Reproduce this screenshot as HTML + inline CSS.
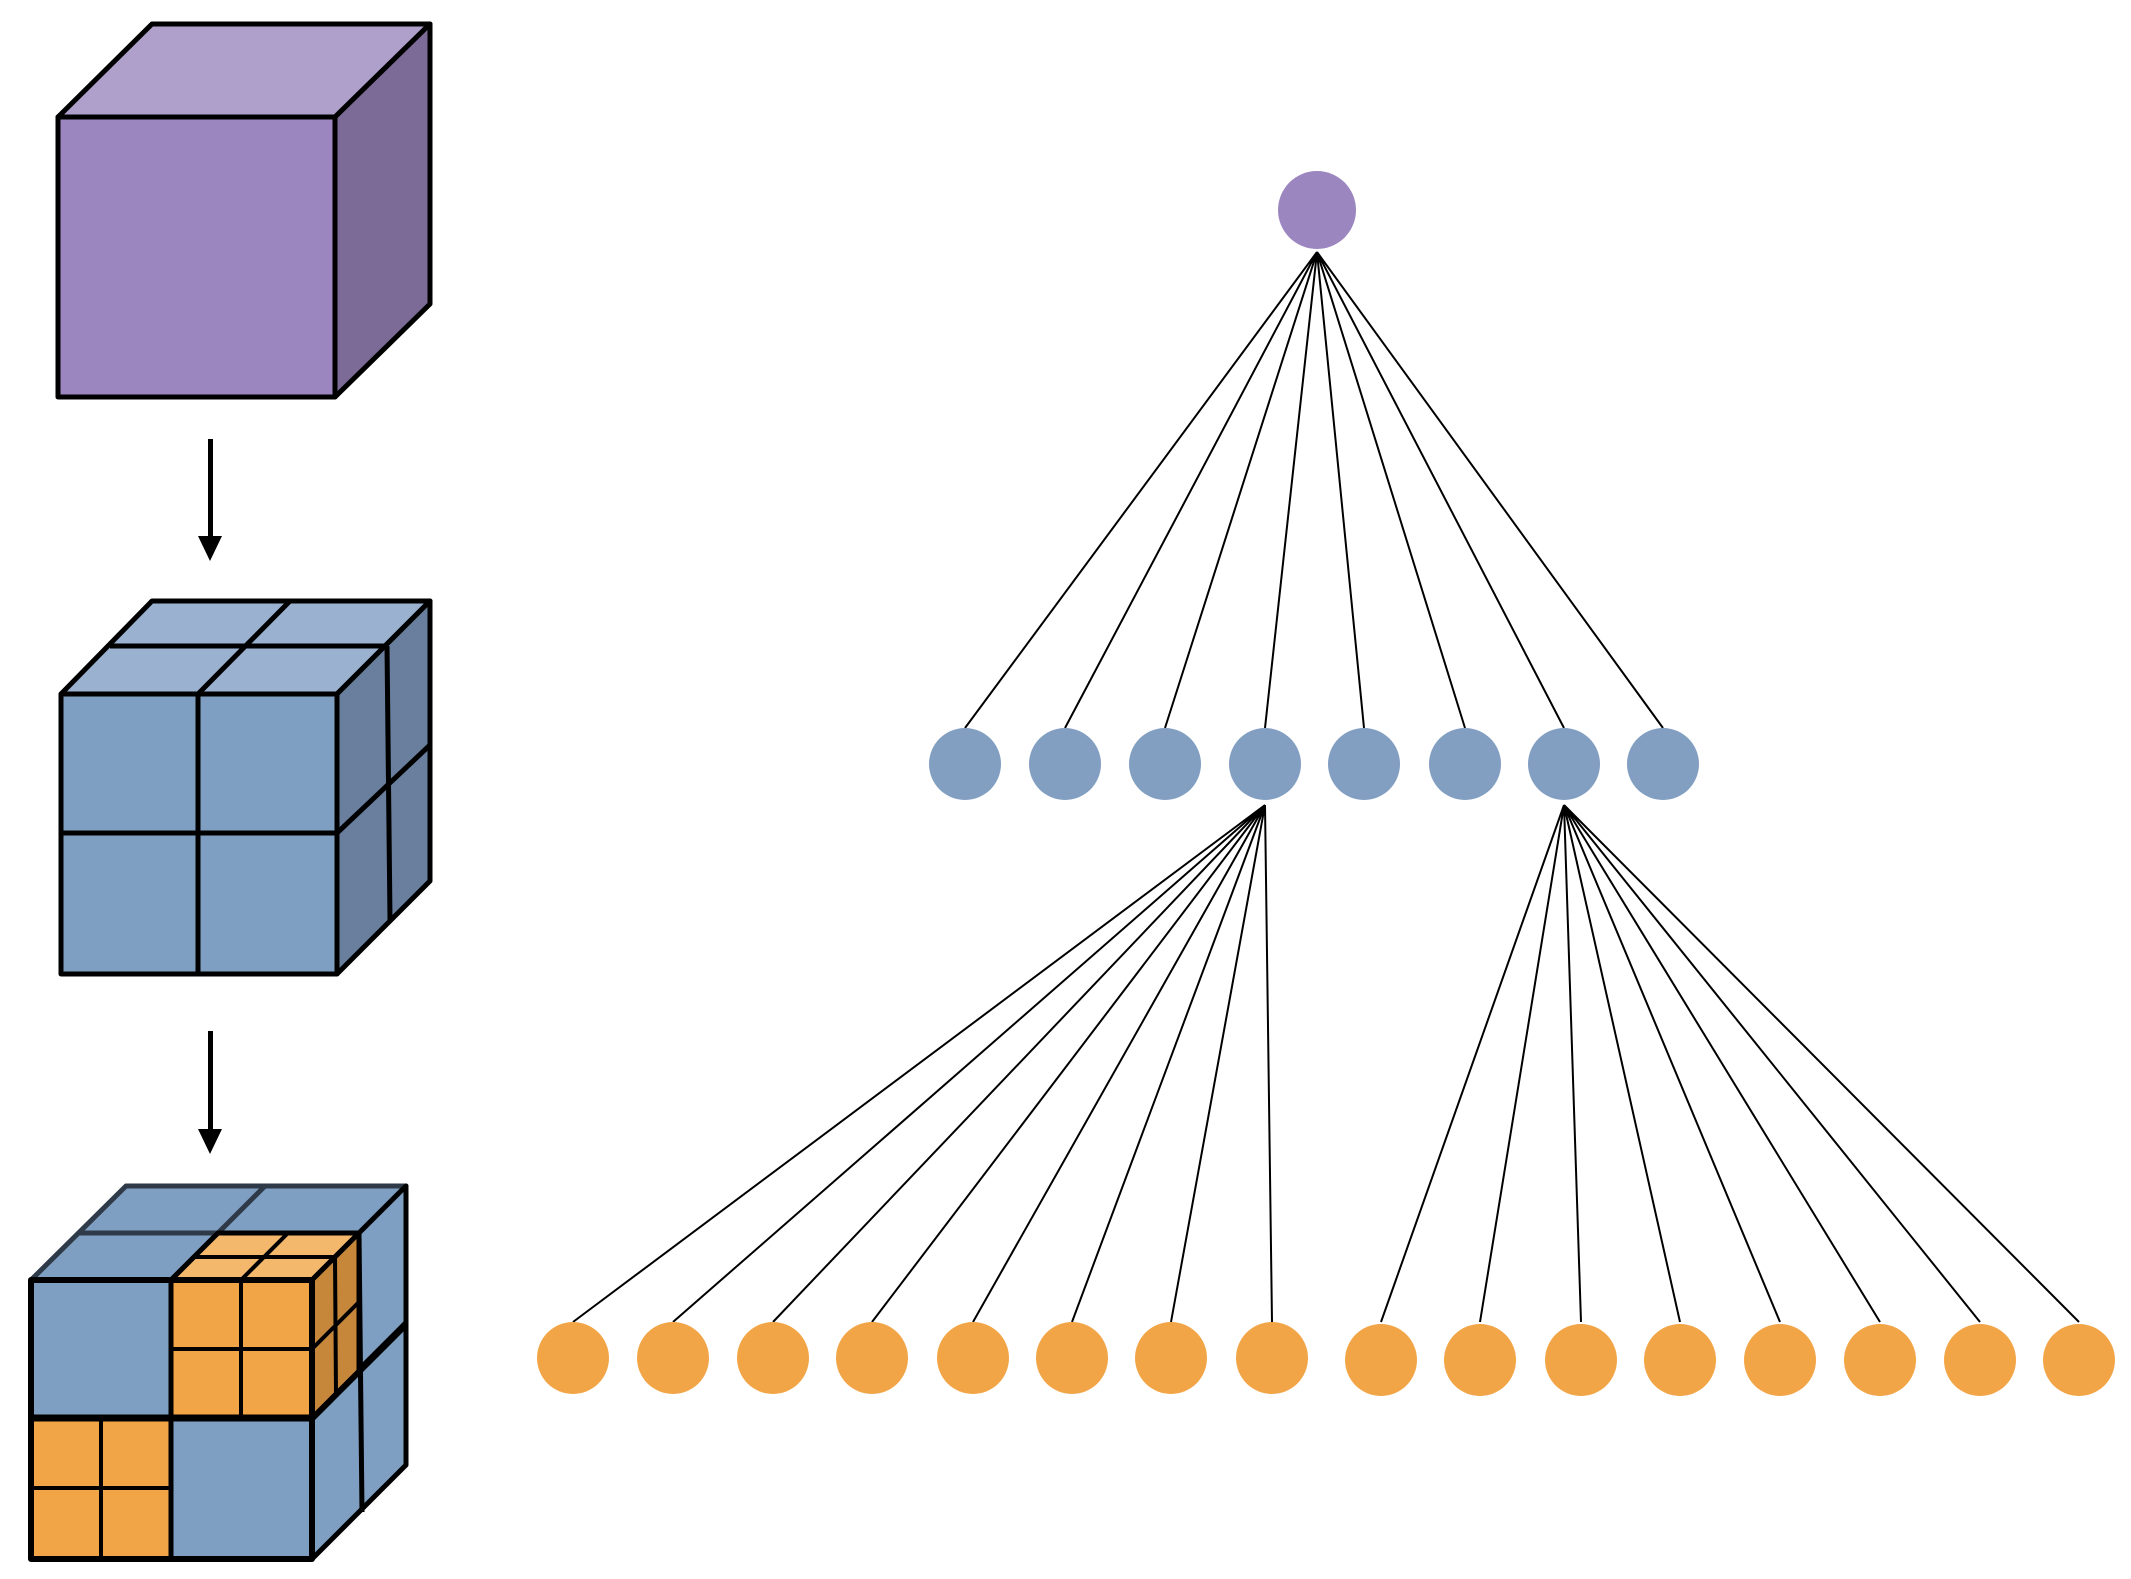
<!DOCTYPE html>
<html><head><meta charset="utf-8"><style>html,body{margin:0;padding:0;background:#fff}svg{display:block}</style></head>
<body>
<svg width="2131" height="1579" viewBox="0 0 2131 1579" xmlns="http://www.w3.org/2000/svg">
<g stroke="#000" stroke-width="5" stroke-linejoin="round">
<!-- purple cube -->
<polygon points="58,117 152,24 430,24 335,117" fill="#ae9fcb"/>
<polygon points="335,117 430,24 430,304 335,397" fill="#7b6b96"/>
<rect x="58" y="117" width="277" height="280" fill="#9b86bf"/>
<!-- blue cube -->
<polygon points="61,694 152,601 430,601 337,694" fill="#9ab1d0"/>
<polygon points="337,694 430,601 430,881 337,974" fill="#697f9d"/>
<rect x="61" y="694" width="276" height="280" fill="#7f9fc2"/>
<line x1="110" y1="646" x2="387" y2="646"/>
<line x1="198" y1="694" x2="290" y2="601"/>
<line x1="387" y1="646" x2="390" y2="920"/>
<line x1="337" y1="833" x2="430" y2="745"/>
<line x1="198" y1="694" x2="198" y2="974"/>
<line x1="61" y1="833" x2="337" y2="833"/>
<!-- cube 3 -->
<polygon points="31,1280 126,1186 406,1186 312,1280" fill="#7f9fc2" stroke="#2f3a48"/>
<polygon points="312,1280 406,1186 406,1465 312,1559" fill="#7f9fc2"/>
<rect x="31" y="1280" width="281" height="279" fill="#7f9fc2"/>
<line x1="78" y1="1233" x2="359" y2="1233" stroke="#2f3a48"/>
<line x1="171" y1="1280" x2="265" y2="1186" stroke="#2f3a48"/>
<line x1="359" y1="1233" x2="362" y2="1512"/>
<line x1="312" y1="1418" x2="406" y2="1324" stroke-width="7"/>
<!-- orange octant top-right -->
<polygon points="171,1280 218,1233 359,1233 312,1280" fill="#f4b86c"/>
<polygon points="312,1280 359,1233 359,1371 312,1418" fill="#c6873a"/>
<rect x="171" y="1280" width="141" height="138" fill="#f2a546"/>
<g stroke-width="4">
<line x1="194" y1="1257" x2="335" y2="1257"/>
<line x1="241" y1="1280" x2="288" y2="1233"/>
<line x1="335" y1="1257" x2="336" y2="1395"/>
<line x1="312" y1="1349" x2="359" y2="1302"/>
<line x1="241" y1="1280" x2="241" y2="1418"/>
<line x1="171" y1="1349" x2="312" y2="1349"/>
</g>
<!-- orange octant bottom-left -->
<rect x="31" y="1418" width="140" height="141" fill="#f2a546"/>
<g stroke-width="4">
<line x1="101" y1="1418" x2="101" y2="1559"/>
<line x1="31" y1="1488" x2="171" y2="1488"/>
</g>
<line x1="31" y1="1418" x2="312" y2="1418" stroke-width="7"/>
<line x1="171" y1="1280" x2="171" y2="1559"/>
<rect x="31" y="1280" width="281" height="279" fill="none" stroke-width="6"/>
</g>
<!-- arrows -->
<g fill="#000">
<rect x="208" y="439" width="5" height="100"/>
<polygon points="198,536 222,536 210,561"/>
<rect x="208" y="1031" width="5" height="100"/>
<polygon points="198,1129 222,1129 210,1154"/>
</g>
<!-- tree lines -->
<g stroke="#000" stroke-width="2" fill="none">
<path d="M1317 252 L965 728 M1317 252 L1065 728 M1317 252 L1165 728 M1317 252 L1265 728 M1317 252 L1364 728 M1317 252 L1465 728 M1317 252 L1564 728 M1317 252 L1663 728"/>
<path d="M1265 805 L573 1322 M1265 805 L673 1322 M1265 805 L773 1322 M1265 805 L872 1322 M1265 805 L973 1322 M1265 805 L1072 1322 M1265 805 L1171 1322 M1265 805 L1272 1322"/>
<path d="M1564 805 L1381 1322 M1564 805 L1480 1322 M1564 805 L1581 1322 M1564 805 L1680 1322 M1564 805 L1780 1322 M1564 805 L1880 1322 M1564 805 L1980 1322 M1564 805 L2079 1322"/>
</g>
<circle cx="1317" cy="210" r="39" fill="#9b86bf"/>
<g fill="#829fc2">
<circle cx="965" cy="764" r="36"/><circle cx="1065" cy="764" r="36"/><circle cx="1165" cy="764" r="36"/><circle cx="1265" cy="764" r="36"/><circle cx="1364" cy="764" r="36"/><circle cx="1465" cy="764" r="36"/><circle cx="1564" cy="764" r="36"/><circle cx="1663" cy="764" r="36"/>
</g>
<g fill="#f2a546">
<circle cx="573" cy="1358" r="36"/><circle cx="673" cy="1358" r="36"/><circle cx="773" cy="1358" r="36"/><circle cx="872" cy="1358" r="36"/><circle cx="973" cy="1358" r="36"/><circle cx="1072" cy="1358" r="36"/><circle cx="1171" cy="1358" r="36"/><circle cx="1272" cy="1358" r="36"/>
<circle cx="1381" cy="1360" r="36"/><circle cx="1480" cy="1360" r="36"/><circle cx="1581" cy="1360" r="36"/><circle cx="1680" cy="1360" r="36"/><circle cx="1780" cy="1360" r="36"/><circle cx="1880" cy="1360" r="36"/><circle cx="1980" cy="1360" r="36"/><circle cx="2079" cy="1360" r="36"/>
</g>
</svg>
</body></html>
